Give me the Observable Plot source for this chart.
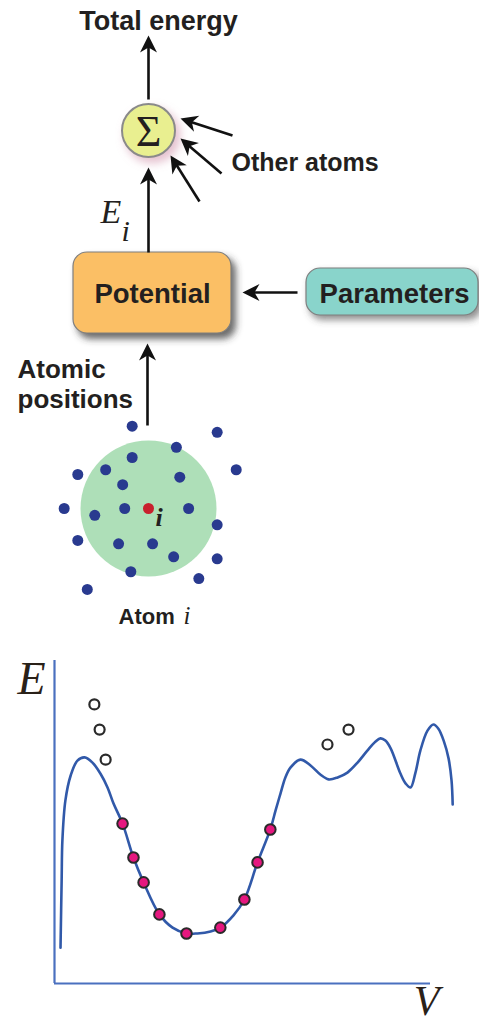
<!DOCTYPE html>
<html><head><meta charset="utf-8">
<script src="https://cdn.jsdelivr.net/npm/d3@7"></script>
<script src="https://cdn.jsdelivr.net/npm/@observablehq/plot@0.6"></script>
<style>
body{margin:0;background:#fff}
#wrap{position:relative;width:479px;height:1023px;overflow:hidden;background:#fff}
#wrap svg{position:absolute;display:block}
</style>
</head><body><div id="wrap"></div>
<script>
// ---------- data ----------
// flow-diagram labels
const totalLabel = "Total energy";
const otherLabel = "Other atoms";
const potentialLabel = "Potential";
const parametersLabel = "Parameters";
const positionsLabel = "Atomic\npositions";
const atomLabel = "Atom";
const indexLabel = "i";

// neighbours of atom i, coordinates relative to atom i (cut-off radius = 1)
const neighbourX = [-0.24, 1.01, 0.41, -0.24, 1.29, -1.04, -0.63, 0.46, -0.38, -1.24, -0.79, -0.35, 0.59, 1.01, -1.04, -0.44, 0.06, 0.37, 1.01, -0.26, 0.74, -0.90];
const neighbourY = [1.21, 1.12, 0.90, 0.75, 0.57, 0.50, 0.57, 0.46, 0.35, 0.00, -0.10, 0.00, 0.00, -0.24, -0.47, -0.52, -0.52, -0.71, -0.74, -0.93, -1.03, -1.19];
const cutoff = 1;

// energy–volume curve of the potential
const curveV = [1.6, 1.9, 2.1, 2.9, 4.3, 6.1, 8.0, 10.1, 12.2, 14.1, 15.7, 18.1, 21.0, 23.7, 27.9, 31.4, 35.1, 38.0, 41.5, 44.1, 47.6, 50.5, 54.0, 57.4, 58.8, 60.1, 61.4, 62.8, 65.4, 68.1, 70.7, 72.9, 75.3, 77.9, 80.6, 83.2, 85.4, 86.7, 88.0, 89.4, 92.0, 93.4, 94.7, 96.0, 97.3, 99.2, 100.8, 102.1, 103.5, 104.8, 105.6, 105.9];
const curveE = [11.1, 31.9, 44.3, 56.7, 64.4, 69.0, 70.0, 68.4, 65.0, 60.7, 55.7, 49.5, 39.0, 31.3, 21.4, 17.3, 15.5, 15.5, 16.1, 17.3, 21.1, 26.0, 37.5, 47.7, 53.6, 58.8, 63.8, 66.9, 69.3, 67.5, 64.7, 63.2, 63.8, 65.3, 68.4, 72.1, 74.9, 75.9, 75.2, 72.8, 65.0, 61.9, 60.7, 65.3, 72.1, 78.3, 80.2, 78.9, 75.2, 69.7, 62.8, 55.4];
// reference (fitted) energies
const fitV = [18.1, 21.0, 23.7, 27.9, 35.1, 44.1, 50.5, 54.0, 57.4];
const fitE = [49.5, 39.0, 31.3, 21.4, 15.5, 17.3, 26.0, 37.5, 47.7];
// structures not fitted
const offV = [10.6, 12.0, 13.6, 72.6, 78.2];
const offE = [86.4, 78.6, 69.3, 74.0, 78.6];

// ---------- layout (diagram units) ----------
const layout = {
  potential: {x1: 73, x2: 231, y1: 252, y2: 333, cx: 152, base: 302},
  parameters: {x1: 306, x2: 478, y1: 268, y2: 315, cx: 394, base: 302},
  sum: {cx: 148, cy: 130, base: 145},
  total: {cx: 158, base: 29},
  other: {x: 231, base: 170},
  positions: {x: 17, base: 407},
  atom: {x: 118, xi: 183, base: 623},
  ei: {x: 100, base: 222, xi: 121, basei: 240}
};
const arrows = [
  {from: [148, 99], to: [148, 35]},
  {from: [148, 252], to: [148, 167]},
  {from: [232, 135], to: [180, 118]},
  {from: [221, 173], to: [180, 138]},
  {from: [199, 201], to: [170, 155]},
  {from: [297, 292], to: [242, 292]},
  {from: [147, 425], to: [147, 343]}
];

const sans = "Liberation Sans, Arial, Helvetica, sans-serif";
const serif = "Liberation Serif, Times New Roman, serif";
const ink = "#231f20";

// filled barbed arrow head, tip at origin, pointing up
const arrowHead = {draw(ctx) {
  ctx.moveTo(0, 0); ctx.lineTo(8.5, 17); ctx.lineTo(0, 12); ctx.lineTo(-8.5, 17); ctx.closePath();
}};
const shaft = arrows.map(({from, to}) => {
  const dx = to[0] - from[0], dy = to[1] - from[1], len = Math.hypot(dx, dy);
  return {x1: from[0], y1: from[1], x2: to[0] - dx / len * 11, y2: to[1] - dy / len * 11};
});
const heads = arrows.map(({from, to}) => ({
  x: to[0], y: to[1],
  angle: Math.atan2(to[0] - from[0], -(to[1] - from[1])) * 180 / Math.PI
}));

const wrap = document.getElementById("wrap");

// ---------- atoms neighbourhood ----------
const atomsSize = 220, extent = 110 / 68;
const neighbours = neighbourX.map((x, k) => ({x, y: neighbourY[k]}));
const atoms = Plot.plot({
  width: atomsSize, height: atomsSize, margin: 0,
  x: {domain: [-extent, extent], axis: null},
  y: {domain: [-extent, extent], axis: null},
  style: {background: "transparent", overflow: "visible"},
  marks: [
    Plot.dot([{x: 0, y: 0}], {x: "x", y: "y", r: cutoff * (atomsSize / 2) / extent, fill: "#aedfb8"}),
    Plot.dot(neighbours, {x: "x", y: "y", r: 5.5, fill: "#293a8f"}),
    Plot.dot([{x: 0, y: 0}], {x: "x", y: "y", r: 5.5, fill: "#c8202d"}),
    Plot.text([indexLabel], {x: () => 0, y: () => 0, dx: 7, dy: 17, textAnchor: "start", lineAnchor: "bottom",
      fontFamily: serif, fontStyle: "italic", fontWeight: "bold", fontSize: 26, fill: ink})
  ]
});
atoms.style.left = (148 - atomsSize / 2) + "px";
atoms.style.top = (508 - atomsSize / 2) + "px";
wrap.appendChild(atoms);

// ---------- flow diagram ----------
const P = layout.potential, Q = layout.parameters, S = layout.sum;
const flow = Plot.plot({
  width: 479, height: 640, margin: 0,
  x: {domain: [0, 479], range: [0, 479], axis: null},
  y: {domain: [0, 640], range: [0, 640], axis: null},
  style: {background: "transparent", overflow: "visible"},
  marks: [
    // shadows
    Plot.rect([P], {x1: d => d.x1 + 4, x2: d => d.x2 + 5, y1: d => d.y1 + 5, y2: d => d.y2 + 6, rx: 14, fill: "#3a3a3a", fillOpacity: 0.75, ariaDescription: "shadow"}),
    Plot.rect([Q], {x1: d => d.x1 + 3, x2: d => d.x2 + 4, y1: d => d.y1 + 4, y2: d => d.y2 + 5, rx: 14, fill: "#4a4a4a", fillOpacity: 0.6, ariaDescription: "shadow"}),
    Plot.dot([S], {x: d => d.cx + 4, y: d => d.cy + 5, r: 28, fill: "#cf8fa8", fillOpacity: 0.55, ariaDescription: "glow"}),
    // boxes
    Plot.rect([P], {x1: "x1", x2: "x2", y1: "y1", y2: "y2", rx: 14, fill: "#fbbf65", stroke: "#7f7f7f", strokeWidth: 1.2}),
    Plot.rect([Q], {x1: "x1", x2: "x2", y1: "y1", y2: "y2", rx: 14, fill: "#89d4cb", stroke: "#7f7f7f", strokeWidth: 1.2}),
    Plot.dot([S], {x: "cx", y: "cy", r: 26.5, fill: "#e9ef90", stroke: "#8a8a8a", strokeWidth: 2}),
    Plot.text(["Σ"], {x: () => S.cx, y: () => S.base, textAnchor: "middle", lineAnchor: "bottom", fontFamily: serif, fontSize: 44, fill: ink}),
    // arrows
    Plot.link(shaft, {x1: "x1", y1: "y1", x2: "x2", y2: "y2", stroke: "#111", strokeWidth: 2.6}),
    Plot.dot(heads, {x: "x", y: "y", symbol: arrowHead, rotate: "angle", fill: "#111", stroke: "none"}),
    // labels
    Plot.text([totalLabel], {x: () => layout.total.cx, y: () => layout.total.base, textAnchor: "middle", lineAnchor: "bottom", fontFamily: sans, fontWeight: "bold", fontSize: 27, fill: ink}),
    Plot.text([otherLabel], {x: () => layout.other.x, y: () => layout.other.base, textAnchor: "start", lineAnchor: "bottom", fontFamily: sans, fontWeight: "bold", fontSize: 25, fill: ink}),
    Plot.text([potentialLabel], {x: () => P.cx, y: () => P.base, textAnchor: "middle", lineAnchor: "bottom", fontFamily: sans, fontWeight: "bold", fontSize: 27.5, fill: ink}),
    Plot.text([parametersLabel], {x: () => Q.cx, y: () => Q.base, textAnchor: "middle", lineAnchor: "bottom", fontFamily: sans, fontWeight: "bold", fontSize: 27.5, fill: ink}),
    Plot.text([positionsLabel], {x: () => layout.positions.x, y: () => layout.positions.base, textAnchor: "start", lineAnchor: "bottom", lineHeight: 1.12, fontFamily: sans, fontWeight: "bold", fontSize: 26, fill: ink}),
    Plot.text([atomLabel], {x: () => layout.atom.x, y: () => layout.atom.base, textAnchor: "start", lineAnchor: "bottom", fontFamily: sans, fontWeight: "bold", fontSize: 22, fill: ink}),
    Plot.text([indexLabel], {x: () => layout.atom.xi, y: () => layout.atom.base, textAnchor: "start", lineAnchor: "bottom", fontFamily: serif, fontStyle: "italic", fontSize: 25, fill: ink}),
    Plot.text(["E"], {x: () => layout.ei.x, y: () => layout.ei.base, textAnchor: "start", lineAnchor: "bottom", fontFamily: serif, fontStyle: "italic", fontSize: 34, fill: ink}),
    Plot.text([indexLabel], {x: () => layout.ei.xi, y: () => layout.ei.basei, textAnchor: "start", lineAnchor: "bottom", fontFamily: serif, fontStyle: "italic", fontSize: 30, fill: ink})
  ]
});
flow.style.left = "0px"; flow.style.top = "0px";
{
  const svg = d3.select(flow);
  const defs = svg.insert("defs", ":first-child");
  defs.append("filter").attr("id", "soft").attr("x", "-30%").attr("y", "-30%").attr("width", "160%").attr("height", "160%")
    .append("feGaussianBlur").attr("stdDeviation", 3.5);
  defs.append("filter").attr("id", "glow").attr("x", "-60%").attr("y", "-60%").attr("width", "220%").attr("height", "220%")
    .append("feGaussianBlur").attr("stdDeviation", 4.5);
  svg.selectAll('[aria-description="shadow"]').attr("filter", "url(#soft)");
  svg.selectAll('[aria-description="glow"]').attr("filter", "url(#glow)");
}
wrap.appendChild(flow);

// ---------- energy curve ----------
const curve = curveV.map((V, k) => ({V, E: curveE[k]}));
const fitted = fitV.map((V, k) => ({V, E: fitE[k]}));
const others = offV.map((V, k) => ({V, E: offE[k]}));
const chart = Plot.plot({
  width: 479, height: 383,
  marginLeft: 54, marginRight: 49, marginTop: 20, marginBottom: 40,
  x: {domain: [0, 100], axis: null},
  y: {domain: [0, 100], axis: null},
  style: {background: "transparent"},
  marks: [
    Plot.ruleX([0], {stroke: "#4a70bf", strokeWidth: 2.2}),
    Plot.ruleY([0], {stroke: "#4a70bf", strokeWidth: 2.2}),
    Plot.line(curve, {x: "V", y: "E", curve: "catmull-rom", stroke: "#3159a9", strokeWidth: 2.6}),
    Plot.dot(fitted, {x: "V", y: "E", r: 5.3, fill: "#e5177f", stroke: "#2a2a2a", strokeWidth: 2}),
    Plot.dot(others, {x: "V", y: "E", r: 5, fill: "white", stroke: "#2a2a2a", strokeWidth: 2.2}),
    Plot.text(["E"], {frameAnchor: "top-left", dx: -37, dy: 33, textAnchor: "start", lineAnchor: "bottom", fontFamily: serif, fontStyle: "italic", fontSize: 46, fill: "#2a2118"}),
    Plot.text(["V"], {frameAnchor: "bottom-right", dx: -4, dy: 31, textAnchor: "middle", lineAnchor: "bottom", fontFamily: serif, fontStyle: "italic", fontSize: 42, fill: "#2a2118"})
  ]
});
chart.style.left = "0px"; chart.style.top = "640px";
wrap.appendChild(chart);
</script>
</body></html>
